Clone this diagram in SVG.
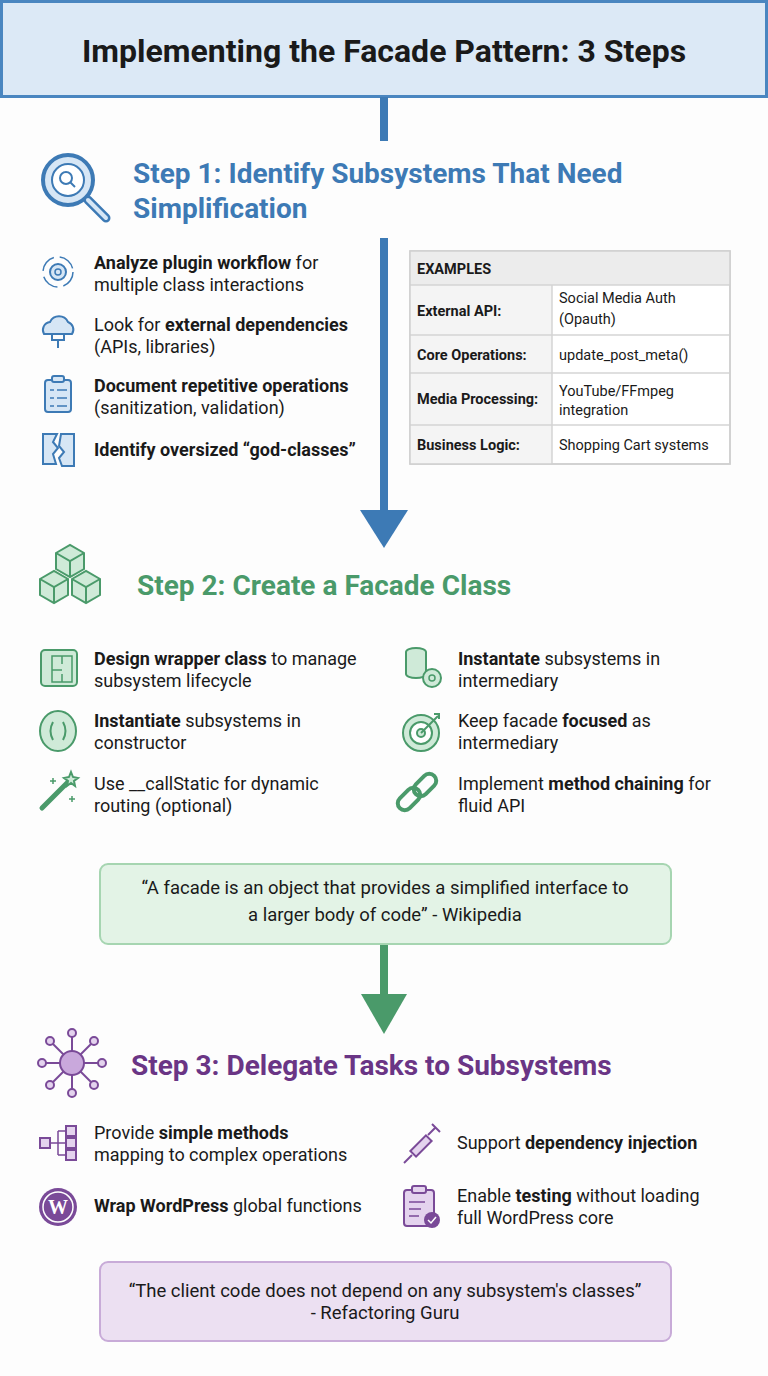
<svg xmlns="http://www.w3.org/2000/svg" width="768" height="1376" viewBox="0 0 768 1376">
<style>
text{font-family:Roboto,"Liberation Sans",sans-serif;fill:#1a1a1a}
.t{font-size:18px}
.q{font-size:18.5px}
.b{font-weight:bold}
.h{font-size:28px;font-weight:bold}
.tb{font-size:14.5px}
.ib{fill:#d6e6f5;stroke:#3d7ab5;stroke-width:2}
.ig{fill:#cfead8;stroke:#4a9a6a;stroke-width:2}
.ip{fill:#e4d3ee;stroke:#7a4a98;stroke-width:2}
</style>
<rect width="768" height="1376" fill="#fdfdfd"/>
<g id="title">
<rect x="1.5" y="1.5" width="765" height="95" fill="#dce9f6" stroke="#4a86c0" stroke-width="3"/>
<text x="384" y="62" text-anchor="middle" font-size="32" font-weight="bold">Implementing the Facade Pattern: 3 Steps</text>
</g>
<g id="connectors">
<rect x="380" y="97" width="8" height="44" fill="#3d7ab5"/>
<rect x="380" y="238" width="8" height="274" fill="#3d7ab5"/>
<polygon points="360,510 408,510 384,548" fill="#3d7ab5"/>
<rect x="380" y="944" width="8" height="52" fill="#4a9a6a"/>
<polygon points="361,994 407,994 384,1034" fill="#4a9a6a"/>
</g>
<g id="step1">
<circle cx="68" cy="180" r="25" fill="#d6e6f5" stroke="#3d7ab5" stroke-width="4"/>
<circle cx="68" cy="180" r="16" fill="#fff" stroke="#3d7ab5" stroke-width="2"/>
<circle cx="66" cy="178" r="6" fill="none" stroke="#3d7ab5" stroke-width="2"/>
<line x1="70" y1="182" x2="75" y2="187" stroke="#3d7ab5" stroke-width="2"/>
<line x1="88" y1="200" x2="106" y2="218" stroke="#3d7ab5" stroke-width="9" stroke-linecap="round"/>
<line x1="88" y1="200" x2="106" y2="218" stroke="#d6e6f5" stroke-width="4" stroke-linecap="round"/>
<text x="133" y="183" class="h" style="fill:#3d7ab5">Step 1: Identify Subsystems That Need</text>
<text x="133" y="218" class="h" style="fill:#3d7ab5">Simplification</text>
</g>
<g id="s1b1">
<circle cx="58" cy="272" r="15" fill="none" stroke="#3d7ab5" stroke-width="1.5" stroke-dasharray="18 6"/>
<circle cx="58" cy="272" r="8" class="ib"/><circle cx="58" cy="272" r="3" fill="none" stroke="#3d7ab5" stroke-width="1.5"/>
<text x="94" y="269" class="t"><tspan class="b">Analyze plugin workflow</tspan> for</text>
<text x="94" y="291" class="t">multiple class interactions</text>
</g>
<g id="s1b2">
<path d="M44 334 a8 8 0 0 1 6-12 a10 10 0 0 1 18 0 a8 8 0 0 1 4 12 z" class="ib"/>
<path d="M52 334 v6 h12 v-6 M58 340 v8" fill="none" stroke="#3d7ab5" stroke-width="2"/>
<text x="94" y="331" class="t">Look for <tspan class="b">external dependencies</tspan></text>
<text x="94" y="353" class="t">(APIs, libraries)</text>
</g>
<g id="s1b3">
<rect x="45" y="380" width="26" height="32" rx="3" class="ib"/>
<rect x="52" y="376" width="12" height="6" rx="2" class="ib"/>
<path d="M50 390 h4 M57 390 h10 M50 398 h4 M57 398 h10 M50 406 h4 M57 406 h10" stroke="#3d7ab5" stroke-width="1.5"/>
<text x="94" y="392" class="t b">Document repetitive operations</text>
<text x="94" y="414" class="t">(sanitization, validation)</text>
</g>
<g id="s1b4">
<path d="M43 434 h14 l-4 8 l5 6 l-5 6 l3 10 h-13 z" class="ib"/>
<path d="M61 434 h13 v32 h-12 l-3-8 l5-6 l-5-6 z" class="ib"/>
<text x="94" y="456" class="t b">Identify oversized “god-classes”</text>
</g>
<g id="examples">
<rect x="410" y="251" width="320" height="213" fill="#fff" stroke="#cfcfcf" stroke-width="1.5"/>
<rect x="410" y="251" width="320" height="34" fill="#ececec"/>
<rect x="410" y="285" width="142" height="179" fill="#f4f4f4"/>
<g stroke="#d4d4d4" stroke-width="1.5">
<line x1="410" y1="285" x2="730" y2="285"/><line x1="410" y1="335" x2="730" y2="335"/>
<line x1="410" y1="373" x2="730" y2="373"/><line x1="410" y1="425" x2="730" y2="425"/>
<line x1="552" y1="285" x2="552" y2="464"/>
</g>
<rect x="410" y="251" width="320" height="213" fill="none" stroke="#cfcfcf" stroke-width="1.5"/>
<text x="417" y="274" class="tb b">EXAMPLES</text>
<text x="417" y="316" class="tb b">External API:</text>
<text x="559" y="303" class="tb">Social Media Auth</text><text x="559" y="324" class="tb">(Opauth)</text>
<text x="417" y="360" class="tb b">Core Operations:</text>
<text x="559" y="360" class="tb">update_post_meta()</text>
<text x="417" y="404" class="tb b">Media Processing:</text>
<text x="559" y="396" class="tb">YouTube/FFmpeg</text><text x="559" y="415" class="tb">integration</text>
<text x="417" y="450" class="tb b">Business Logic:</text>
<text x="559" y="450" class="tb">Shopping Cart systems</text>
</g>
<g id="step2">
<g class="ig">
<path d="M56 553 l14-8 l14 8 v16 l-14 8 l-14-8 z"/>
<path d="M40 579 l14-8 l14 8 v16 l-14 8 l-14-8 z"/>
<path d="M72 579 l14-8 l14 8 v16 l-14 8 l-14-8 z"/>
</g>
<path d="M56 553 l14 8 l14-8 M70 561 v16 M40 579 l14 8 l14-8 M54 587 v16 M72 579 l14 8 l14-8 M86 587 v16" fill="none" stroke="#4a9a6a" stroke-width="2"/>
<text x="137" y="595" class="h" style="fill:#4a9a6a">Step 2: Create a Facade Class</text>
</g>
<g id="s2b1">
<rect x="41" y="650" width="36" height="36" rx="4" class="ig"/>
<path d="M52 656 h20 v26 h-20 z M52 670 h10 M62 656 v8 M62 674 v8" fill="none" stroke="#4a9a6a" stroke-width="1.5"/>
<text x="94" y="665" class="t"><tspan class="b">Design wrapper class</tspan> to manage</text>
<text x="94" y="687" class="t">subsystem lifecycle</text>
</g>
<g id="s2b2">
<ellipse cx="58" cy="731" rx="18" ry="20" class="ig"/>
<path d="M53 722 q-5 9 0 18 M63 722 q5 9 0 18" fill="none" stroke="#4a9a6a" stroke-width="2"/>
<text x="94" y="727" class="t"><tspan class="b">Instantiate</tspan> subsystems in</text>
<text x="94" y="749" class="t">constructor</text>
</g>
<g id="s2b3">
<line x1="42" y1="808" x2="68" y2="782" stroke="#4a9a6a" stroke-width="5" stroke-linecap="round"/>
<path d="M71 772 l2 5 l5 1 l-4 3 l1 5 l-4-3 l-4 3 l1-5 l-4-3 l5-1 z" class="ig"/>
<path d="M53 778 v6 M50 781 h6 M72 796 v6 M69 799 h6" stroke="#4a9a6a" stroke-width="1.5"/>
<text x="94" y="790" class="t">Use __callStatic for dynamic</text>
<text x="94" y="812" class="t">routing (optional)</text>
</g>
<g id="s2b4">
<ellipse cx="416" cy="652" rx="10" ry="4" class="ig"/>
<path d="M406 652 v22 a10 4 0 0 0 20 0 v-22" class="ig"/>
<circle cx="432" cy="678" r="9" class="ig"/>
<circle cx="432" cy="678" r="3" fill="none" stroke="#4a9a6a" stroke-width="1.5"/>
<text x="458" y="665" class="t"><tspan class="b">Instantate</tspan> subsystems in</text>
<text x="458" y="687" class="t">intermediary</text>
</g>
<g id="s2b5">
<circle cx="421" cy="733" r="18" class="ig"/>
<circle cx="421" cy="733" r="11" fill="#fff" stroke="#4a9a6a" stroke-width="2"/>
<circle cx="421" cy="733" r="4" class="ig"/>
<path d="M421 733 l17-17 M434 714 l5 0 l0 5" stroke="#4a9a6a" stroke-width="2" fill="none"/>
<text x="458" y="727" class="t">Keep facade <tspan class="b">focused</tspan> as</text>
<text x="458" y="749" class="t">intermediary</text>
</g>
<g id="s2b6">
<rect x="402" y="786" width="14" height="26" rx="7" transform="rotate(45 409 799)" fill="none" stroke="#4a9a6a" stroke-width="4"/>
<rect x="418" y="772" width="14" height="26" rx="7" transform="rotate(45 425 785)" fill="none" stroke="#4a9a6a" stroke-width="4"/>
<text x="458" y="790" class="t">Implement <tspan class="b">method chaining</tspan> for</text>
<text x="458" y="812" class="t">fluid API</text>
</g>
<g id="quote1">
<rect x="100" y="864" width="571" height="80" rx="8" fill="#e3f3e6" stroke="#a6d5b1" stroke-width="2"/>
<text x="385" y="894" text-anchor="middle" class="q">“A facade is an object that provides a simplified interface to</text>
<text x="385" y="921" text-anchor="middle" class="q">a larger body of code” - Wikipedia</text>
</g>
<g id="step3">
<g stroke="#7a4a98" stroke-width="2">
<line x1="72" y1="1063" x2="72" y2="1035"/><line x1="72" y1="1063" x2="72" y2="1091"/>
<line x1="72" y1="1063" x2="44" y2="1063"/><line x1="72" y1="1063" x2="100" y2="1063"/>
<line x1="72" y1="1063" x2="52" y2="1043"/><line x1="72" y1="1063" x2="92" y2="1043"/>
<line x1="72" y1="1063" x2="52" y2="1083"/><line x1="72" y1="1063" x2="92" y2="1083"/>
</g>
<circle cx="72" cy="1063" r="12" fill="#c9a8dc" stroke="#7a4a98" stroke-width="2"/>
<g class="ip">
<circle cx="72" cy="1033" r="4"/><circle cx="72" cy="1093" r="4"/><circle cx="42" cy="1063" r="4"/><circle cx="102" cy="1063" r="4"/>
<circle cx="50" cy="1041" r="4"/><circle cx="94" cy="1041" r="4"/><circle cx="50" cy="1085" r="4"/><circle cx="94" cy="1085" r="4"/>
</g>
<text x="131" y="1075" class="h" style="fill:#6a3585">Step 3: Delegate Tasks to Subsystems</text>
</g>
<g id="s3b1">
<rect x="40" y="1138" width="10" height="10" class="ip"/>
<rect x="66" y="1126" width="10" height="10" class="ip"/><rect x="66" y="1138" width="10" height="10" class="ip"/><rect x="66" y="1150" width="10" height="10" class="ip"/>
<path d="M50 1143 h8 M58 1131 v24 M58 1131 h8 M58 1143 h8 M58 1155 h8" fill="none" stroke="#7a4a98" stroke-width="1.5"/>
<text x="94" y="1139" class="t">Provide <tspan class="b">simple methods</tspan></text>
<text x="94" y="1161" class="t">mapping to complex operations</text>
</g>
<g id="s3b2">
<circle cx="58" cy="1207" r="19" fill="#7a4a98"/>
<circle cx="58" cy="1207" r="15" fill="none" stroke="#fff" stroke-width="1.5"/>
<text x="58" y="1214" text-anchor="middle" font-size="20" font-weight="bold" style="fill:#fff;font-family:'Liberation Serif',serif">W</text>
<text x="94" y="1212" class="t"><tspan class="b">Wrap WordPress</tspan> global functions</text>
</g>
<g id="s3b3">
<line x1="404" y1="1163" x2="412" y2="1155" stroke="#7a4a98" stroke-width="2"/>
<rect x="410" y="1142" width="22" height="8" transform="rotate(-45 421 1146)" class="ip"/>
<path d="M428 1135 l8-8 M432 1124 l8 8" stroke="#7a4a98" stroke-width="2"/>
<text x="457" y="1149" class="t">Support <tspan class="b">dependency injection</tspan></text>
</g>
<g id="s3b4">
<rect x="404" y="1190" width="30" height="36" rx="3" class="ip"/>
<rect x="412" y="1186" width="14" height="7" rx="2" class="ip"/>
<path d="M409 1202 h16 M409 1209 h12 M409 1216 h10" stroke="#7a4a98" stroke-width="1.5"/>
<circle cx="432" cy="1220" r="8" fill="#7a4a98"/>
<path d="M428 1220 l3 3 l5-6" fill="none" stroke="#fff" stroke-width="1.5"/>
<text x="457" y="1202" class="t">Enable <tspan class="b">testing</tspan> without loading</text>
<text x="457" y="1224" class="t">full WordPress core</text>
</g>
<g id="quote2">
<rect x="100" y="1262" width="571" height="79" rx="8" fill="#ece0f2" stroke="#c8abd8" stroke-width="2"/>
<text x="385" y="1297" text-anchor="middle" class="q">“The client code does not depend on any subsystem's classes”</text>
<text x="385" y="1319" text-anchor="middle" class="q">- Refactoring Guru</text>
</g>
</svg>
